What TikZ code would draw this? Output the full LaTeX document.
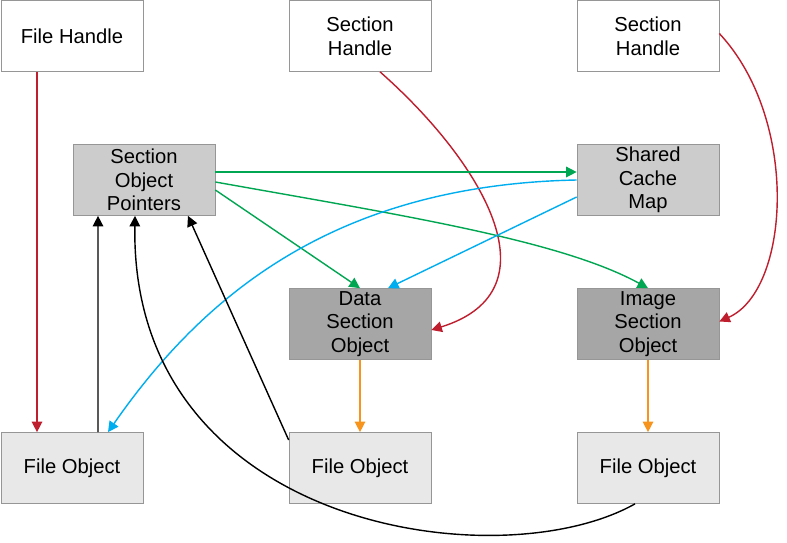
\documentclass[tikz,border=0pt]{standalone}
\usepackage{fontspec}
\setmainfont{Liberation Sans}
\usetikzlibrary{arrows.meta}
\definecolor{boxline}{RGB}{150,150,150}
\definecolor{redarr}{RGB}{190,30,45}
\definecolor{greenarr}{RGB}{0,166,81}
\definecolor{bluearr}{RGB}{0,174,239}
\definecolor{orangearr}{RGB}{247,148,29}
\tikzset{
  box/.style={draw=boxline, minimum width=2.84cm, minimum height=1.42cm, align=center,
    font=\fontsize{11.5}{13.5}\selectfont, inner sep=1pt},
  handle/.style={box, fill=white},
  pointer/.style={box, fill=black!20},
  section/.style={box, fill=black!35},
  fileobj/.style={box, fill=black!9},
  link/.style={thick, -{Triangle[length=6pt,width=6pt]}},
}
\begin{document}
\begin{tikzpicture}[x=0.02cm, y=-0.02cm]
        \useasboundingbox (0,0) rectangle (787,543);

        % Caselle
        \node[handle] (fh) at (72,36) {File Handle};
        \node[handle] (sh1) at (360,36) {Section\\Handle};
        \node[handle] (sh2) at (648,36) {Section\\Handle};
        \node[pointer] (sop) at (144,180) {Section\\Object\\Pointers};
        \node[pointer] (scm) at (648,180) {Shared\\Cache\\Map};
        \node[section] (dso) at (360,324) {Data\\Section\\Object};
        \node[section] (iso) at (648,324) {Image\\Section\\Object};
        \node[fileobj] (fo1) at (72,468) {File Object};
        \node[fileobj] (fo2) at (360,468) {File Object};
        \node[fileobj] (fo3) at (648,468) {File Object};

        % Frecce rosse
        \draw[link, redarr] ([xshift=-0.7cm]fh.south) -- ([xshift=-0.7cm]fo1.north);
        \draw[link, redarr] ([xshift=0.4cm]sh1.south) .. controls (480,160) and (560,290) .. ([yshift=-0.12cm]dso.east);
        \draw[link, redarr] ([yshift=0.05cm]sh2.east) .. controls (800,120) and (790,290) .. ([yshift=0.05cm]iso.east);

        % Frecce verdi
        \draw[link, greenarr] ([yshift=0.16cm]sop.east) -- ([yshift=0.16cm]scm.east -| scm.west);
        \draw[link, greenarr] ([yshift=-0.04cm]sop.east) .. controls (400,215) and (560,240) .. (iso.north);
        \draw[link, greenarr] ([yshift=-0.2cm]sop.east) -- (dso.north);

        % Frecce blu
        \draw[link, bluearr] (scm.west) .. controls (330,185) and (200,300) .. ([xshift=0.72cm]fo1.north);
        \draw[link, bluearr] ([yshift=-0.34cm]scm.west) -- ([xshift=0.56cm]dso.north);

        % Frecce arancioni
        \draw[link, orangearr] (dso.south) -- (fo2.north);
        \draw[link, orangearr] (iso.south) -- (fo3.north);

        % Frecce nere
        \draw[link, black] ([xshift=0.52cm]fo1.north) -- ([xshift=-0.92cm]sop.south);
        \draw[link, black] ([yshift=0.56cm]fo2.west) -- ([xshift=0.88cm]sop.south);
        \draw[link, black] ([xshift=-0.26cm]fo3.south) .. controls (500,580) and (130,530) .. ([xshift=-0.18cm]sop.south);
    \end{tikzpicture}
\end{document}
